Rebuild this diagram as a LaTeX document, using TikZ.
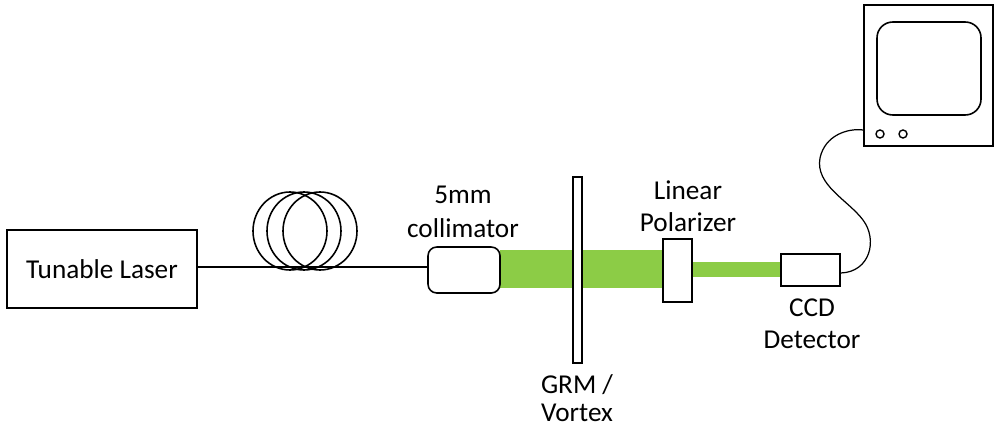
\documentclass[tikz,border=0pt]{standalone}
\usepackage{fontspec}
\setmainfont{Carlito}
\begin{document}
\begin{tikzpicture}[x=0.02cm,y=-0.02cm,line width=0.9pt,
  lbl/.style={font=\fontsize{15.5}{18}\selectfont,inner sep=0pt},
  beam/.style={fill={rgb,255:red,140;green,204;blue,70},draw=none}]
\useasboundingbox (0,0) rectangle (1000,429);
% beams
\fill[beam] (500,250) rectangle (663,288);
\fill[beam] (692,262) rectangle (781,277);
% laser
\node[draw,minimum width=190*0.02cm,minimum height=78*0.02cm,lbl,inner sep=0pt] (laser) at (102,269) {Tunable Laser};
% coil
\draw (290,231) ellipse (37 and 39);
\draw (304,231) ellipse (37 and 39);
\draw (320,231) ellipse (37 and 39);
% collimator
\node[draw,fill=white,rounded corners=5pt,minimum width=72*0.02cm,minimum height=46*0.02cm] (col) at (464,270) {};
\draw (laser.east |- 0,267) coordinate (f0) -- (col.west |- 0,267);
\node[lbl] (t5) at (463,195) {5mm};
\node[lbl] (tc) at (463,228) {collimator};
% GRM plate
\node[draw,fill=white,minimum width=9*0.02cm,minimum height=186*0.02cm,inner sep=0pt] (grm) at (577.5,270) {};
\node[lbl] (g1) at (577,385) {GRM /};
\node[lbl] (g2) at (577,413) {Vortex};
% polarizer
\node[draw,fill=white,minimum width=29*0.02cm,minimum height=63*0.02cm,inner sep=0pt] (pol) at (677.5,270.5) {};
\node[lbl] (p1) at (688,190) {Linear};
\node[lbl] (p2) at (688,222) {Polarizer};
% CCD
\node[draw,fill=white,minimum width=59*0.02cm,minimum height=32*0.02cm,inner sep=0pt] (ccd) at (810.5,270) {};
\node[lbl] (c1) at (812,308) {CCD};
\node[lbl] (c2) at (812,340) {Detector};
% monitor
\node[draw,minimum width=129*0.02cm,minimum height=141*0.02cm,inner sep=0pt] (mon) at (928.5,75.5) {};
\draw[rounded corners=9pt] (877,22) rectangle (981,115);
\node[draw,circle,minimum size=8*0.02cm,inner sep=0pt,line width=0.8pt] (b1) at (880,134) {};
\node[draw,circle,minimum size=8*0.02cm,inner sep=0pt,line width=0.8pt] (b2) at (903,134) {};
% cable
\draw[line width=0.7pt] (ccd.east) ++(0,3) coordinate (k0)
  .. controls (870,272) and (878,240) .. (863,220)
  .. controls (848,200) and (815,185) .. (820,158)
  .. controls (825,135) and (848,128) .. (mon.west |- 0,130);
\end{tikzpicture}
\end{document}
